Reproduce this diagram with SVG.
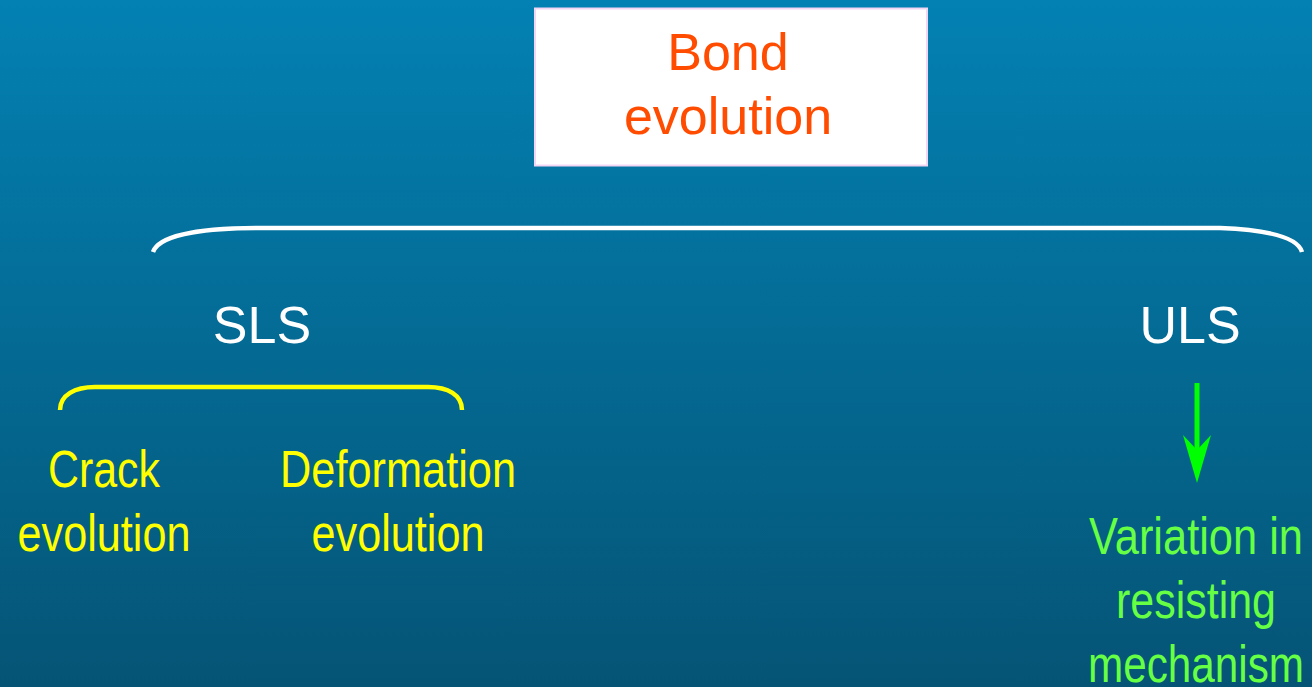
<svg xmlns="http://www.w3.org/2000/svg" width="1312" height="687" viewBox="0 0 1312 687">
  <defs>
    <linearGradient id="bg" x1="0" y1="0" x2="0" y2="1">
      <stop offset="0" stop-color="#0381b3"/>
      <stop offset="1" stop-color="#055475"/>
    </linearGradient>
    <style>
      .lbl { font-family: "Liberation Sans", Arial, sans-serif; text-anchor: middle; }
      .title { fill: #ff4c00; font-size: 52px; }
      .state { fill: #ffffff; font-size: 52px; }
      .sls { fill: #ffff00; font-size: 52px; }
      .uls { fill: #66ff44; font-size: 52px; }
      .brace { fill: none; stroke-width: 4.5; stroke-linecap: butt; }
    </style>
  </defs>

  <rect x="0" y="0" width="1312" height="687" fill="url(#bg)"/>

  <!-- top node -->
  <g id="bond-evolution">
    <rect x="535" y="8.5" width="392" height="157" fill="#ffffff" stroke="#f3d6f3" stroke-width="2"/>
    <text class="lbl title" x="728" y="70">Bond</text>
    <text class="lbl title" x="728" y="134">evolution</text>
  </g>

  <!-- limit states -->
  <g id="sls">
    <text class="lbl state" x="262" y="343">SLS</text>
  </g>
  <g id="uls">
    <text class="lbl state" x="1190" y="343">ULS</text>
  </g>

  <!-- SLS branches -->
  <g id="crack-evolution">
    <text class="lbl sls" x="104" y="487" textLength="112" lengthAdjust="spacingAndGlyphs">Crack</text>
    <text class="lbl sls" x="104" y="551" textLength="173" lengthAdjust="spacingAndGlyphs">evolution</text>
  </g>
  <g id="deformation-evolution">
    <text class="lbl sls" x="398" y="487" textLength="236" lengthAdjust="spacingAndGlyphs">Deformation</text>
    <text class="lbl sls" x="398" y="551" textLength="173" lengthAdjust="spacingAndGlyphs">evolution</text>
  </g>

  <!-- ULS outcome -->
  <g id="resisting-mechanism">
    <text class="lbl uls" x="1196" y="554" textLength="214" lengthAdjust="spacingAndGlyphs">Variation in</text>
    <text class="lbl uls" x="1196" y="618" textLength="160" lengthAdjust="spacingAndGlyphs">resisting</text>
    <text class="lbl uls" x="1196" y="682" textLength="216" lengthAdjust="spacingAndGlyphs">mechanism</text>
  </g>

  <!-- connectors -->
  <g id="connectors">
    <path class="brace" stroke="#ffffff" d="M153 252 C160 232 215 228 260 228 L1220 228 C1270 230 1298 238 1302 252"/>
    <path class="brace" stroke="#ffff00" stroke-width="5" d="M60 410 C60 395 75 387 95 387 L428 387 C448 387 462 395 462 410"/>
    <line x1="1197" y1="383" x2="1197" y2="452" stroke="#00ff00" stroke-width="5"/>
    <path d="M1197 483 L1183 435 L1197 450 L1211 435 Z" fill="#00ff00"/>
  </g>
</svg>
